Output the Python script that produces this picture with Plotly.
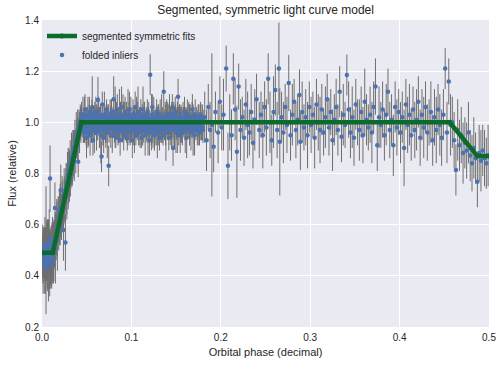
import plotly.graph_objects as go

# ---- folded light-curve data (phase, relative flux, 1-sigma error) ----
low_phase = [0.0003,0.0008,0.0012,0.0017,0.0021,0.0026,0.0030,0.0035,0.0040,0.0045,0.0049,0.0054,0.0058,0.0063,
             0.0067,0.0072,0.0077,0.0081,0.0086,0.0090,0.0095,0.0100,0.0104,0.0109,0.0113,0.0118,0.0123,0.0128]
low_flux = [0.47,0.50,0.45,0.52,0.48,0.44,0.51,0.49,0.46,0.50,0.47,0.50,0.43,0.48,
            0.52,0.46,0.49,0.55,0.45,0.78,0.47,0.51,0.48,0.44,0.50,0.53,0.47,0.49]
low_err = [0.08,0.10,0.12,0.07,0.09,0.11,0.08,0.10,0.13,0.25,0.09,0.12,0.08,0.14,
           0.10,0.16,0.09,0.11,0.13,0.13,0.10,0.08,0.12,0.09,0.11,0.10,0.08,0.12]

low2_phase = [0.0005,0.0010,0.0015,0.0019,0.0024,0.0028,0.0033,0.0038,0.0043,0.0047,0.0052,0.0056,0.0061,0.0065,0.0070,
              0.0075,0.0079,0.0084,0.0088,0.0093,0.0098,0.0102,0.0107,0.0111,0.0116,0.0121,0.0126,0.0131,0.0136,0.0142]
low2_flux = [0.49,0.46,0.51,0.48,0.50,0.47,0.52,0.45,0.49,0.48,0.51,0.46,0.50,0.47,0.49,
             0.53,0.48,0.45,0.51,0.49,0.46,0.50,0.48,0.52,0.47,0.49,0.51,0.50,0.54,0.52]
low2_err = [0.06,0.09,0.07,0.10,0.05,0.08,0.11,0.07,0.09,0.06,0.10,0.08,0.07,0.12,0.06,
            0.09,0.08,0.10,0.07,0.09,0.11,0.06,0.08,0.07,0.10,0.09,0.06,0.08,0.07,0.09]

ramp_phase = [0.0133,0.0140,0.0145,0.0150,0.0158,0.0165,0.0172,0.0180,0.0188,0.0195,0.0203,0.0210,0.0218,
              0.0225,0.0233,0.0240,0.0248,0.0255,0.0262,0.0270,0.0278,0.0285,0.0293,0.0300,0.0308,0.0315,
              0.0323,0.0330,0.0338,0.0345,0.0353,0.0360,0.0368,0.0375,0.0383,0.0390,0.0398,0.0405,0.0413,
              0.0420,0.0428,0.0435,0.0443]
ramp_flux = [0.50,0.53,0.665,0.51,0.56,0.59,0.54,0.62,0.60,0.66,0.64,0.735,0.63,
             0.68,0.66,0.579,0.72,0.70,0.53,0.76,0.74,0.794,0.78,0.82,0.79,0.84,
             0.81,0.86,0.83,0.88,0.90,0.87,0.93,0.91,0.95,0.94,0.97,0.846,0.98,
             0.96,1.01,0.99,1.03]
ramp_err = [0.12,0.09,0.10,0.14,0.08,0.11,0.12,0.09,0.10,0.08,0.12,0.10,0.09,
            0.11,0.08,0.12,0.10,0.09,0.11,0.08,0.10,0.09,0.12,0.08,0.10,0.09,
            0.07,0.10,0.08,0.09,0.07,0.10,0.08,0.06,0.09,0.07,0.08,0.06,0.07,
            0.08,0.06,0.07,0.05]

ramp2_phase = [0.0148,0.0158,0.0168,0.0178,0.0188,0.0198,0.0208,0.0218,0.0228,0.0238,
               0.0248,0.0258,0.0268,0.0278,0.0288,0.0298,0.0308,0.0318,0.0328,0.0338,
               0.0348,0.0358,0.0368,0.0378,0.0388,0.0398,0.0408,0.0418,0.0428,0.0438]
ramp2_flux = [0.55,0.54,0.59,0.57,0.62,0.60,0.65,0.63,0.68,0.66,
              0.71,0.69,0.74,0.72,0.77,0.76,0.80,0.78,0.83,0.82,
              0.87,0.85,0.90,0.88,0.93,0.91,0.96,0.95,0.99,1.01]
ramp2_err = [0.09,0.08,0.10,0.07,0.09,0.08,0.10,0.07,0.09,0.08,
             0.07,0.09,0.08,0.10,0.07,0.08,0.09,0.07,0.08,0.06,
             0.08,0.07,0.06,0.08,0.07,0.06,0.05,0.07,0.06,0.05]

plateau_phase = [
    0.0450,0.0458,0.0466,0.0474,0.0482,0.0490,0.0498,0.0506,0.0514,0.0522,
    0.0530,0.0538,0.0546,0.0554,0.0562,0.0570,0.0578,0.0586,0.0594,0.0602,
    0.0610,0.0618,0.0626,0.0634,0.0642,0.0650,0.0658,0.0666,0.0674,0.0682,
    0.0690,0.0698,0.0706,0.0714,0.0722,0.0730,0.0738,0.0746,0.0754,0.0762,
    0.0770,0.0778,0.0786,0.0794,0.0802,0.0810,0.0818,0.0826,0.0834,0.0842,
    0.0850,0.0858,0.0866,0.0874,0.0882,0.0890,0.0898,0.0906,0.0914,0.0922,
    0.0930,0.0938,0.0946,0.0954,0.0962,0.0970,0.0978,0.0986,0.0994,0.1002,
    0.1010,0.1018,0.1026,0.1034,0.1042,0.1050,0.1058,0.1066,0.1074,0.1082,
    0.1090,0.1098,0.1106,0.1114,0.1122,0.1130,0.1138,0.1146,0.1154,0.1162,
    0.1170,0.1178,0.1186,0.1194,0.1202,0.1210,0.1218,0.1226,0.1234,0.1242,
    0.1250,0.1258,0.1266,0.1274,0.1282,0.1290,0.1298,0.1306,0.1314,0.1322,
    0.1330,0.1338,0.1346,0.1354,0.1362,0.1370,0.1378,0.1386,0.1394,0.1402,
    0.1410,0.1418,0.1426,0.1434,0.1442,0.1450,0.1458,0.1466,0.1474,0.1482,
    0.1490,0.1498,0.1506,0.1514,0.1522,0.1530,0.1538,0.1546,0.1554,0.1562,
    0.1570,0.1578,0.1586,0.1594,0.1602,0.1610,0.1618,0.1626,0.1634,0.1642,
    0.1650,0.1658,0.1666,0.1674,0.1682,0.1690,0.1698,0.1706,0.1714,0.1722,
    0.1730,0.1738,0.1746,0.1754,0.1762,0.1770,0.1778,0.1786,0.1794,0.1800]
plateau_flux = [
    0.99,1.03,0.96,1.01,1.05,0.98,0.94,1.02,1.00,0.97,
    1.04,0.95,1.01,0.99,1.06,0.93,1.02,0.97,1.00,1.03,
    0.96,1.01,1.087,1.04,0.98,1.00,0.95,0.866,1.07,0.99,
    0.94,1.03,1.00,0.97,1.05,0.96,1.01,0.83,0.99,1.02,
    0.98,1.04,0.95,1.00,1.09,0.97,1.02,0.94,1.01,1.05,
    0.96,0.99,1.03,0.93,1.00,1.06,0.98,1.02,0.95,1.01,
    1.04,0.97,1.00,0.94,1.02,0.99,1.05,0.96,1.01,0.98,
    0.93,1.03,1.00,0.97,1.06,0.95,1.02,0.99,1.04,0.96,
    1.01,0.98,1.03,0.94,1.00,1.05,0.97,1.02,0.95,1.00,
    0.99,1.04,0.96,1.01,0.93,1.186,0.98,1.00,1.06,0.97,
    1.02,0.95,1.00,0.98,1.04,0.96,1.01,0.99,0.94,1.03,
    0.97,1.02,1.00,0.95,1.12,0.98,1.01,0.96,1.03,0.99,
    1.00,0.94,1.03,0.97,1.01,0.99,1.06,0.90,1.02,0.98,
    1.04,0.96,1.00,0.98,1.10,0.95,1.01,0.97,1.02,0.99,
    0.96,1.01,0.99,1.04,0.97,1.00,0.94,1.03,0.98,1.01,
    0.99,1.02,0.96,1.00,1.05,0.97,1.01,0.95,1.03,0.98,
    1.00,0.97,1.02,0.99,0.96,1.03,1.00,0.98,1.01,0.97]
plateau_err = [
    0.05,0.07,0.04,0.09,0.06,0.05,0.08,0.04,0.10,0.06,
    0.06,0.08,0.05,0.07,0.12,0.06,0.04,0.09,0.05,0.07,
    0.07,0.05,0.09,0.06,0.08,0.04,0.11,0.06,0.05,0.08,
    0.06,0.09,0.05,0.07,0.04,0.10,0.06,0.08,0.05,0.07,
    0.08,0.05,0.07,0.06,0.09,0.05,0.12,0.04,0.07,0.06,
    0.05,0.07,0.10,0.06,0.04,0.08,0.05,0.09,0.06,0.07,
    0.06,0.04,0.08,0.05,0.11,0.06,0.07,0.05,0.09,0.04,
    0.07,0.06,0.05,0.09,0.06,0.04,0.08,0.06,0.10,0.05,
    0.05,0.08,0.06,0.04,0.07,0.09,0.05,0.06,0.08,0.04,
    0.06,0.05,0.09,0.07,0.06,0.08,0.04,0.11,0.05,0.07,
    0.08,0.06,0.04,0.07,0.05,0.10,0.06,0.08,0.05,0.06,
    0.05,0.09,0.06,0.04,0.08,0.05,0.07,0.11,0.06,0.05,
    0.07,0.05,0.08,0.06,0.04,0.09,0.05,0.07,0.06,0.08,
    0.06,0.08,0.05,0.10,0.07,0.04,0.06,0.09,0.05,0.07,
    0.05,0.07,0.04,0.06,0.09,0.05,0.08,0.06,0.04,0.07,
    0.08,0.05,0.07,0.04,0.06,0.10,0.05,0.08,0.06,0.05,
    0.04,0.06,0.05,0.08,0.05,0.04,0.07,0.05,0.06,0.05]

plateau2_phase = [
    0.0454,0.0462,0.0470,0.0478,0.0486,0.0494,0.0502,0.0510,0.0518,0.0526,
    0.0534,0.0542,0.0550,0.0558,0.0566,0.0574,0.0582,0.0590,0.0598,0.0606,
    0.0614,0.0622,0.0630,0.0638,0.0646,0.0654,0.0662,0.0670,0.0678,0.0686,
    0.0694,0.0702,0.0710,0.0718,0.0726,0.0734,0.0742,0.0750,0.0758,0.0766,
    0.0774,0.0782,0.0790,0.0798,0.0806,0.0814,0.0822,0.0830,0.0838,0.0846,
    0.0854,0.0862,0.0870,0.0878,0.0886,0.0894,0.0902,0.0910,0.0918,0.0926,
    0.0934,0.0942,0.0950,0.0958,0.0966,0.0974,0.0982,0.0990,0.0998,0.1006,
    0.1014,0.1022,0.1030,0.1038,0.1046,0.1054,0.1062,0.1070,0.1078,0.1086,
    0.1094,0.1102,0.1110,0.1118,0.1126,0.1134,0.1142,0.1150,0.1158,0.1166,
    0.1174,0.1182,0.1190,0.1198,0.1206,0.1214,0.1222,0.1230,0.1238,0.1246,
    0.1254,0.1262,0.1270,0.1278,0.1286,0.1294,0.1302,0.1310,0.1318,0.1326,
    0.1334,0.1342,0.1350,0.1358,0.1366,0.1374,0.1382,0.1390,0.1398,0.1406,
    0.1414,0.1422,0.1430,0.1438,0.1446,0.1454,0.1462,0.1470,0.1478,0.1486,
    0.1494,0.1502,0.1510,0.1518,0.1526,0.1534,0.1542,0.1550,0.1558,0.1566,
    0.1574,0.1582,0.1590,0.1598,0.1606,0.1614,0.1622,0.1630,0.1638,0.1646,
    0.1654,0.1662,0.1670,0.1678,0.1686,0.1694,0.1702,0.1710,0.1718,0.1726,
    0.1734,0.1742,0.1750,0.1758,0.1766,0.1774,0.1782,0.1790,0.1797,0.1803]
plateau2_flux = [
    1.00,0.97,1.02,0.98,1.01,0.96,1.03,0.99,0.97,1.02,
    0.98,1.01,0.96,1.03,0.99,1.00,0.97,1.04,0.98,1.01,
    1.02,0.97,0.99,1.01,0.96,1.03,1.00,0.98,1.02,0.97,
    0.99,1.01,0.97,1.03,0.98,1.00,1.02,0.96,1.01,0.99,
    1.03,0.98,1.00,0.97,1.01,0.99,1.04,0.97,1.00,0.98,
    1.01,0.97,0.99,1.02,0.98,1.00,0.96,1.03,0.99,1.01,
    0.98,1.02,0.97,1.00,0.99,1.03,0.96,1.01,0.98,1.02,
    1.00,0.97,1.03,0.99,0.98,1.01,0.97,1.02,1.00,0.96,
    0.99,1.02,0.98,1.01,0.97,1.00,1.03,0.98,0.99,1.01,
    0.97,1.00,1.02,0.98,1.01,0.99,0.96,1.03,0.98,1.00,
    1.01,0.98,0.99,1.02,0.97,1.00,1.03,0.98,1.01,0.99,
    0.98,1.01,0.97,1.00,1.02,0.99,0.97,1.01,0.98,1.03,
    0.99,1.02,0.98,1.00,0.97,1.01,0.99,1.03,0.98,1.00,
    1.02,0.97,1.00,0.99,1.01,0.98,1.03,0.97,1.00,0.99,
    0.98,1.01,1.00,0.97,1.02,0.99,1.01,0.98,1.00,1.02,
    0.97,1.00,0.99,1.02,0.98,1.01,0.97,1.00,0.99,1.01,
    1.00,0.98,1.01,0.99,0.97,1.02,0.99,1.00,0.98,1.01]
plateau2_err = [
    0.04,0.05,0.03,0.06,0.04,0.05,0.03,0.04,0.06,0.05,
    0.03,0.05,0.04,0.06,0.03,0.04,0.05,0.04,0.03,0.06,
    0.05,0.04,0.03,0.05,0.06,0.04,0.03,0.05,0.04,0.06,
    0.04,0.03,0.05,0.04,0.06,0.03,0.05,0.04,0.03,0.05,
    0.06,0.04,0.05,0.03,0.04,0.06,0.05,0.03,0.04,0.05,
    0.03,0.05,0.04,0.06,0.05,0.03,0.04,0.05,0.06,0.04,
    0.05,0.03,0.04,0.06,0.03,0.05,0.04,0.03,0.05,0.04,
    0.04,0.06,0.03,0.05,0.04,0.05,0.03,0.06,0.04,0.05,
    0.03,0.04,0.05,0.03,0.06,0.04,0.05,0.04,0.03,0.05,
    0.05,0.03,0.04,0.06,0.04,0.03,0.05,0.04,0.06,0.03,
    0.04,0.05,0.03,0.04,0.06,0.05,0.03,0.05,0.04,0.04,
    0.06,0.03,0.05,0.04,0.03,0.05,0.06,0.04,0.03,0.05,
    0.04,0.05,0.03,0.06,0.04,0.03,0.05,0.04,0.05,0.03,
    0.05,0.04,0.06,0.03,0.05,0.04,0.03,0.05,0.04,0.06,
    0.03,0.05,0.04,0.04,0.03,0.06,0.05,0.03,0.04,0.05,
    0.04,0.03,0.05,0.06,0.04,0.03,0.05,0.04,0.03,0.05,
    0.05,0.04,0.03,0.05,0.04,0.06,0.03,0.04,0.05,0.04]

sparse_phase = [
    0.182,0.184,0.186,0.188,0.190,0.192,0.194,0.197,0.199,0.201,
    0.203,0.206,0.208,0.210,0.212,0.214,0.216,0.218,0.220,0.222,
    0.224,0.226,0.228,0.230,0.232,0.234,0.236,0.238,0.240,0.243,
    0.245,0.247,0.249,0.251,0.253,0.255,0.257,0.259,0.261,0.263,
    0.265,0.266,0.268,0.270,0.272,0.274,0.276,0.278,0.280,0.282,
    0.284,0.286,0.288,0.289,0.291,0.293,0.295,0.297,0.299,0.301,
    0.303,0.305,0.307,0.309,0.311,0.313,0.315,0.317,0.319,0.321,
    0.323,0.325,0.327,0.329,0.331,0.333,0.335,0.337,0.339,0.341,
    0.343,0.345,0.347,0.349,0.351,0.353,0.355,0.357,0.359,0.361,
    0.363,0.365,0.367,0.369,0.371,0.373,0.375,0.377,0.379,0.381,
    0.383,0.385,0.387,0.389,0.391,0.393,0.395,0.397,0.399,0.401,
    0.403,0.405,0.407,0.409,0.411,0.413,0.415,0.417,0.419,0.421,
    0.423,0.425,0.427,0.429,0.431,0.433,0.435,0.437,0.439,0.441,
    0.443,0.445,0.447,0.449,0.451,0.453,0.455]
sparse_flux = [
    1.02,0.93,1.06,0.97,0.99,0.905,1.04,0.96,1.08,0.98,
    1.03,1.21,0.83,1.00,0.95,1.17,1.05,0.885,1.14,0.97,
    1.02,0.94,1.07,0.99,0.96,1.04,0.92,1.01,1.09,0.97,
    1.03,0.95,1.06,0.98,1.17,1.00,0.93,1.04,1.126,0.97,
    1.21,0.924,1.02,0.96,1.06,0.99,1.154,0.95,1.03,1.08,
    0.97,1.01,1.107,0.924,1.04,0.98,1.02,0.95,1.06,0.99,
    1.03,0.94,1.07,1.00,0.97,1.05,0.96,1.02,1.09,0.98,
    1.04,0.93,1.01,1.06,0.97,1.12,0.944,1.03,0.99,1.185,
    1.05,0.96,1.02,0.94,1.07,1.00,0.97,1.04,0.95,1.08,
    1.01,0.98,1.03,0.96,1.06,1.14,0.91,1.02,0.99,1.05,
    0.95,1.03,1.12,0.97,1.01,0.91,1.06,0.98,1.04,0.96,
    1.02,0.90,1.07,0.99,1.03,0.95,1.05,0.97,1.01,1.08,
    0.94,1.03,0.98,1.06,0.96,1.00,1.04,0.93,1.02,0.97,
    1.05,0.99,0.94,1.03,1.21,0.96,1.16]
sparse_err = [
    0.10,0.12,0.09,0.11,0.28,0.10,0.08,0.12,0.10,0.09,
    0.14,0.09,0.13,0.11,0.10,0.10,0.12,0.18,0.09,0.12,
    0.08,0.11,0.10,0.13,0.09,0.11,0.10,0.12,0.10,0.11,
    0.09,0.13,0.10,0.11,0.10,0.12,0.10,0.14,0.10,0.11,
    0.18,0.21,0.10,0.12,0.09,0.11,0.11,0.10,0.12,0.09,
    0.11,0.10,0.10,0.11,0.12,0.09,0.11,0.13,0.10,0.11,
    0.09,0.12,0.10,0.11,0.13,0.10,0.09,0.12,0.10,0.11,
    0.09,0.12,0.10,0.11,0.10,0.10,0.10,0.12,0.09,0.08,
    0.11,0.10,0.12,0.11,0.10,0.09,0.12,0.10,0.11,0.13,
    0.10,0.09,0.11,0.12,0.10,0.11,0.10,0.12,0.09,0.11,
    0.10,0.12,0.09,0.11,0.10,0.12,0.10,0.11,0.09,0.12,
    0.10,0.15,0.10,0.11,0.12,0.10,0.09,0.11,0.12,0.10,
    0.11,0.10,0.12,0.10,0.11,0.09,0.12,0.10,0.11,0.13,
    0.10,0.12,0.11,0.10,0.08,0.12,0.09]

egress_phase = [0.457,0.459,0.461,0.463,0.465,0.467,0.469,0.471,0.473,0.475,0.477,
                0.479,0.481,0.483,0.485,0.487,0.489,0.491,0.493,0.495,0.497,0.499]
egress_flux = [0.99,1.00,0.93,0.814,0.97,0.91,0.95,0.88,0.92,0.89,0.96,
               0.87,0.84,0.90,0.86,0.768,0.88,0.85,0.89,0.86,0.84,0.87]
egress_err = [0.12,0.10,0.11,0.10,0.12,0.10,0.11,0.12,0.10,0.11,0.12,
              0.10,0.11,0.12,0.10,0.10,0.11,0.12,0.10,0.11,0.10,0.12]

# ---- segmented symmetric fit (node phases and fluxes) ----
fit_phase = [0.0, 0.012, 0.044, 0.456, 0.487, 0.5]
fit_flux = [0.49, 0.49, 1.0, 1.0, 0.868, 0.868]

# ---- axis ticks ----
x_ticks = [0.0, 0.1, 0.2, 0.3, 0.4, 0.5]
y_ticks = [0.2, 0.4, 0.6, 0.8, 1.0, 1.2, 1.4]

phase = low_phase + low2_phase + ramp_phase + ramp2_phase + plateau_phase + plateau2_phase + sparse_phase + egress_phase
flux = low_flux + low2_flux + ramp_flux + ramp2_flux + plateau_flux + plateau2_flux + sparse_flux + egress_flux
err = low_err + low2_err + ramp_err + ramp2_err + plateau_err + plateau2_err + sparse_err + egress_err

FONT = "Liberation Sans, Arial, sans-serif"
TXT = "#262626"

fig = go.Figure()
fig.add_trace(go.Scatter(
    x=phase, y=flux, mode="markers", name="folded inliers",
    marker=dict(color="#4C72B0", size=4.5),
    error_y=dict(type="data", array=err, color="#6e6e6e", thickness=1, width=0),
    legendrank=2,
))
fig.add_trace(go.Scatter(
    x=fit_phase, y=fit_flux, mode="lines+markers", name="segmented symmetric fits",
    line=dict(color="#0b6b2a", width=4.5),
    marker=dict(color="#0b6b2a", size=5),
    legendrank=1,
))

fig.update_layout(
    width=502, height=365,
    margin=dict(l=42, r=13, t=20, b=38),
    paper_bgcolor="white", plot_bgcolor="#EAEAF2",
    font=dict(family=FONT, size=10, color=TXT),
    title=dict(text="Segmented, symmetric light curve model", x=0.529, xanchor="center",
               y=0.972, yanchor="middle", yref="container", font=dict(size=12, color=TXT)),
    showlegend=True,
    legend=dict(x=0.0, y=0.995, xanchor="left", yanchor="top", bgcolor="rgba(0,0,0,0)",
                font=dict(size=10, color=TXT), tracegroupgap=0, itemwidth=30),
)
fig.update_xaxes(range=[0, 0.5], tickvals=x_ticks, tickformat=".1f", showgrid=True, automargin=False,
                 gridcolor="white", gridwidth=1, zeroline=False, showline=False, ticks="",
                 ticklabelstandoff=3,
                 title=dict(text="Orbital phase (decimal)", font=dict(size=11, color=TXT), standoff=6))
fig.update_yaxes(range=[0.2, 1.4], tickvals=y_ticks, tickformat=".1f", showgrid=True, automargin=False,
                 gridcolor="white", gridwidth=1, zeroline=False, showline=False, ticks="",
                 ticklabelstandoff=2,
                 title=dict(text="Flux (relative)", font=dict(size=11, color=TXT), standoff=6))

fig.write_html("out.html", config={"displayModeBar": False},
               post_script="document.body.style.margin='0';document.body.style.padding='0';")
